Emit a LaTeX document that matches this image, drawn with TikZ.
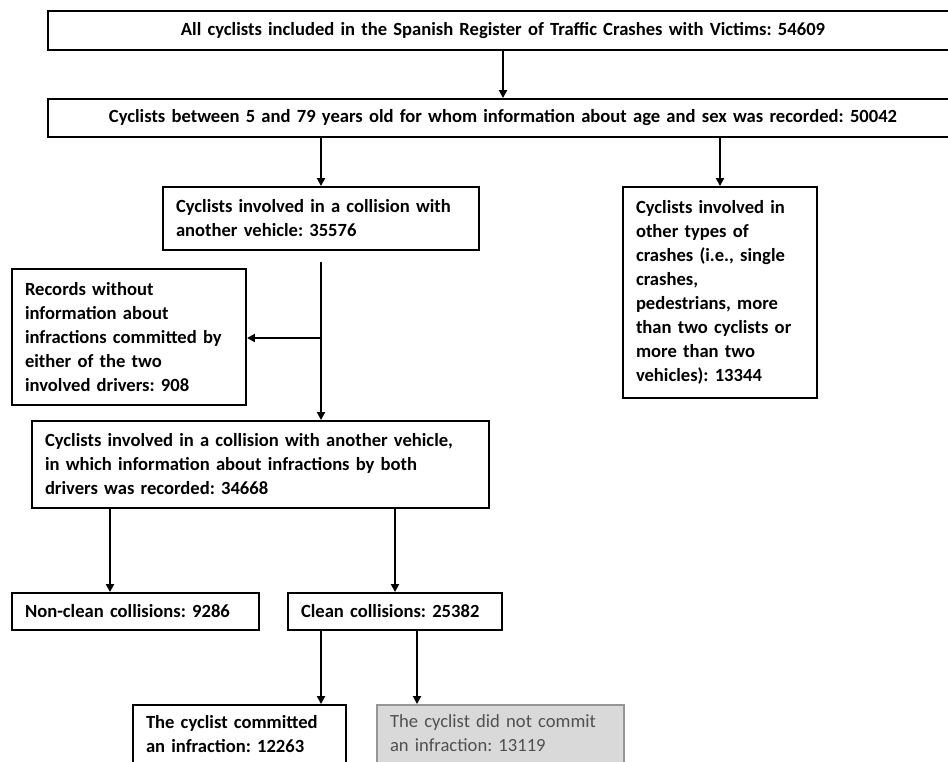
\documentclass[tikz,border=0pt]{standalone}
\usepackage{fontspec}
\setmainfont{Carlito}
\usetikzlibrary{arrows.meta}
\definecolor{grayfill}{RGB}{217,217,217}
\definecolor{grayline}{RGB}{150,150,150}
\definecolor{graytext}{RGB}{80,80,80}
\frenchspacing
\begin{document}
\begin{tikzpicture}[x=1pt,y=-1pt,
  box/.style={draw=black, line width=1.9pt, inner xsep=13pt, inner ysep=0pt, align=left,
    font=\fontsize{18.6}{24}\selectfont\bfseries},
  graybox/.style={box, draw=grayline, fill=grayfill, text=graytext,
    font=\fontsize{18.6}{24}\selectfont},
  arr/.style={line width=1.9pt, -{Triangle[width=8pt,length=8pt]}},
]
\useasboundingbox (0,0) rectangle (948,762);

\node[box, align=center, minimum width=910pt, text width=884pt, minimum height=39pt] (b1) at (503,30.5)
  {All cyclists included in the Spanish Register of Traffic Crashes with Victims: 54609};
\node[box, align=center, minimum width=910pt, text width=884pt, minimum height=38pt] (b2) at (503,118)
  {Cyclists between 5 and 79 years old for whom information about age and sex was recorded: 50042};
\node[box, minimum width=316pt, text width=290pt, minimum height=63pt] (b3) at (321,218.5)
  {Cyclists involved in a collision with\\another vehicle: 35576};
\node[box, minimum width=194pt, text width=168pt, minimum height=211pt] (br) at (720,292.5)
  {Cyclists involved in\\other types of\\crashes (i.e., single\\crashes,\\pedestrians, more\\than two cyclists or\\more than two\\vehicles): 13344};
\node[box, minimum width=234pt, text width=208pt, minimum height=136pt] (b4) at (129,337)
  {Records without\\information about\\infractions committed by\\either of the two\\involved drivers: 908};
\node[box, minimum width=457pt, text width=431pt, minimum height=87pt] (b5) at (260.5,464.5)
  {Cyclists involved in a collision with another vehicle,\\in which information about infractions by both\\drivers was recorded: 34668};
\node[box, minimum width=247pt, text width=221pt, minimum height=37pt] (b6) at (135.5,611.5)
  {Non-clean collisions: 9286};
\node[box, minimum width=214pt, text width=188pt, minimum height=37pt] (b7) at (395,611.5)
  {Clean collisions: 25382};
\node[box, minimum width=213pt, text width=187pt, minimum height=80pt, inner ysep=10pt] (b8) at (239.5,745)
  {\parbox[c][60pt][t]{187pt}{\raggedright The cyclist committed\\an infraction: 12263}};
\node[graybox, minimum width=247pt, text width=221pt, minimum height=80pt, inner ysep=10pt] (b9) at (500.5,745)
  {\parbox[c][60pt][t]{221pt}{\raggedright The cyclist did not commit\\an infraction: 13119}};

\coordinate (s) at (321,262);
\coordinate (m) at (321,338);

\draw[arr] (b1) -- (b2);
\draw[arr] (b2.south -| b3.north) -- (b3.north);
\draw[arr] (b2.south -| br.north) -- (br.north);
\draw[arr] (s) -- (s |- b5.north);
\draw[arr] (m) -- (m -| b4.east);
\draw[arr] (b5.south -| 110,0) -- (b6.north -| 110,0);
\draw[arr] (b5.south -| b7.north) -- (b7.north);
\draw[arr] (b7.south -| 321,0) -- (b8.north -| 321,0);
\draw[arr] (b7.south -| 417,0) -- (b9.north -| 417,0);
\end{tikzpicture}
\end{document}
